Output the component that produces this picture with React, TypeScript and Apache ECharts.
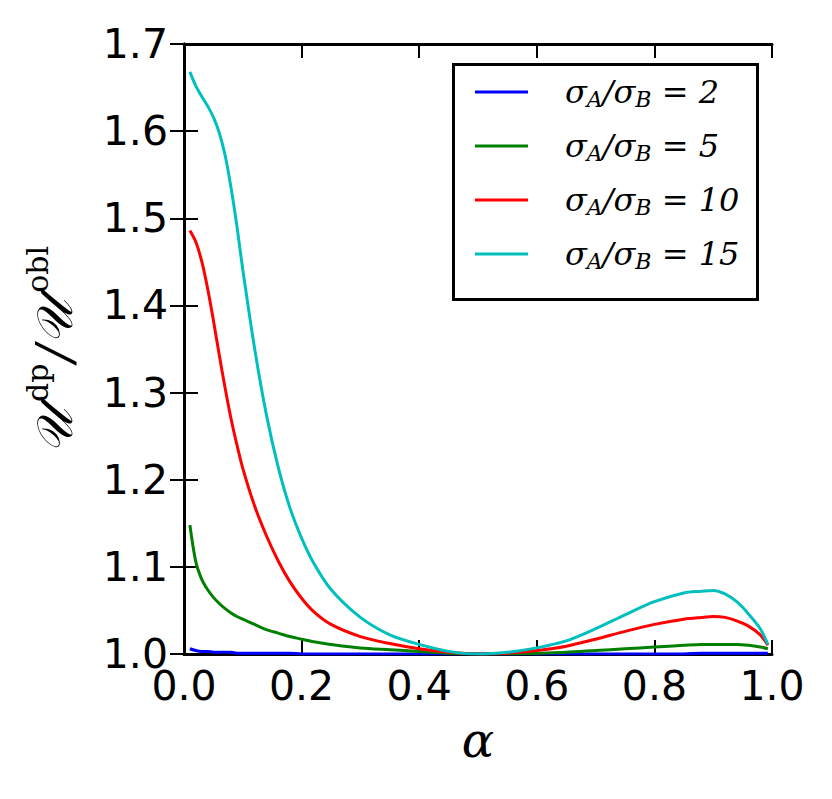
import React, { useEffect, useRef } from "react";
import * as echarts from "echarts";

const alphaValues = [
  0.01, 0.02, 0.03, 0.04, 0.05, 0.06, 0.07, 0.08, 0.09, 0.1, 0.12, 0.14, 0.16, 0.18,
  0.2, 0.22, 0.25, 0.3, 0.35, 0.4, 0.45, 0.5, 0.55, 0.6, 0.65, 0.7, 0.75, 0.8, 0.85,
  0.88, 0.9, 0.92, 0.94, 0.96, 0.98, 0.993,
];

const ratio2 = [
  1.006, 1.004, 1.003, 1.003, 1.002, 1.002, 1.002, 1.002, 1.001, 1.001, 1.001, 1.001, 1.001, 1.001,
  1.0, 1.0, 1.0, 1.0, 1.0, 1.0, 1.0, 1.0, 1.0, 1.0, 1.0, 1.0, 1.0, 1.0, 1.0,
  1.001, 1.001, 1.001, 1.001, 1.001, 1.001, 1.001,
];

const ratio5 = [
  1.148, 1.106, 1.086, 1.074, 1.065, 1.058, 1.052, 1.047, 1.043, 1.04, 1.034, 1.028, 1.024, 1.02,
  1.017, 1.014, 1.011, 1.007, 1.005, 1.003, 1.001, 1.0, 1.0, 1.001, 1.002, 1.004, 1.006, 1.008, 1.01,
  1.011, 1.011, 1.011, 1.011, 1.01, 1.008, 1.006,
];

const ratio10 = [
  1.486, 1.473, 1.451, 1.42, 1.383, 1.343, 1.305, 1.27, 1.24, 1.213, 1.17, 1.136, 1.107, 1.083,
  1.064, 1.049, 1.034, 1.02, 1.012, 1.006, 1.002, 1.0, 1.001, 1.004, 1.009, 1.017, 1.026, 1.034, 1.04,
  1.042, 1.043, 1.042, 1.038, 1.032, 1.022, 1.01,
];

const ratio15 = [
  1.668, 1.652, 1.64, 1.629, 1.616, 1.598, 1.572, 1.535, 1.491, 1.441, 1.351, 1.275, 1.215, 1.168,
  1.133, 1.105, 1.074, 1.042, 1.022, 1.011, 1.003, 1.0, 1.002, 1.007, 1.015, 1.029, 1.045, 1.06, 1.07,
  1.072, 1.073, 1.069, 1.06, 1.046, 1.029, 1.011,
];

const ratioLabels = ["2", "5", "10", "15"];
const seriesColors = ["#0000ff", "#008000", "#ff0000", "#00bfbf"];
const seriesValues = [ratio2, ratio5, ratio10, ratio15];

const xTicks = { min: 0, max: 1, interval: 0.2 };
const yTicks = { min: 1.0, max: 1.7, interval: 0.1 };

export default function App() {
  const ref = useRef<HTMLDivElement>(null);

  useEffect(() => {
    if (!ref.current) return;
    const chart = echarts.init(ref.current, undefined, { renderer: "svg" });

    const seriesNames = ratioLabels.map((r) => `σA/σB=${r}`);
    const labelFont = "'DejaVu Sans', sans-serif";
    const mathFont = "'DejaVu Serif', serif";

    const axisCommon = {
      axisLine: { show: true, lineStyle: { color: "#000", width: 3 } },
      axisTick: { show: true, inside: true, length: 14, lineStyle: { color: "#000", width: 2 } },
      splitLine: { show: false },
    };

    const option: any = {
      animation: false,
      backgroundColor: "#fff",
      grid: { left: 184, top: 44, width: 588, height: 610, containLabel: false },
      xAxis: [
        {
          type: "value",
          ...xTicks,
          position: "bottom",
          ...axisCommon,
          axisLabel: {
            show: true,
            color: "#000",
            fontFamily: labelFont,
            fontSize: 41,
            lineHeight: 28,
            margin: 18,
            showMinLabel: true,
            showMaxLabel: true,
            formatter: (v: number) => v.toFixed(1),
          },
          name: "α",
          nameLocation: "middle",
          nameGap: 62,
          nameTextStyle: {
            color: "#000",
            fontFamily: mathFont,
            fontStyle: "italic",
            fontSize: 48,
          },
        },
        {
          type: "value",
          ...xTicks,
          position: "top",
          ...axisCommon,
          axisLabel: { show: false },
        },
      ],
      yAxis: [
        {
          type: "value",
          ...yTicks,
          position: "left",
          ...axisCommon,
          axisLabel: {
            show: true,
            color: "#000",
            fontFamily: labelFont,
            fontSize: 41,
            lineHeight: 28,
            margin: 16,
            showMinLabel: true,
            showMaxLabel: true,
            formatter: (v: number) => v.toFixed(1),
          },
          name: "{u|𝒰}{sup|dp}{u|/𝒰}{sup|obl}",
          nameLocation: "middle",
          nameRotate: 90,
          nameGap: 104,
          nameTextStyle: {
            color: "#000",
            rich: {
              u: { fontFamily: mathFont, fontStyle: "italic", fontSize: 50, lineHeight: 58, color: "#000", verticalAlign: "bottom" },
              sup: { fontFamily: mathFont, fontSize: 30, lineHeight: 34, color: "#000", verticalAlign: "top", padding: [0, 2, 0, 7] },
            },
          },
        },
        {
          type: "value",
          ...yTicks,
          position: "right",
          ...axisCommon,
          axisLabel: { show: false },
        },
      ],
      graphic: [
        {
          type: "rect",
          left: 452,
          top: 63,
          shape: { x: 0, y: 0, width: 304, height: 235 },
          style: { fill: "#fff", stroke: "#000", lineWidth: 3 },
          z: 50,
        },
      ],
      legend: {
        show: true,
        orient: "vertical",
        left: 475,
        top: 76,
        padding: 0,
        itemWidth: 53,
        itemHeight: 3,
        itemGap: 20,
        icon: "rect",
        z: 60,
        data: seriesNames.map((n) => ({ name: n, icon: "rect" })),
        formatter: (name: string) => {
          const idx = seriesNames.indexOf(name);
          const r = ratioLabels[idx];
          return `{s|σ}{sub|A}{s|/σ}{sub|B}{s| = ${r}}`;
        },
        textStyle: {
          padding: [0, 0, 0, 32],
          rich: {
            s: { fontFamily: mathFont, fontStyle: "italic", fontSize: 32, lineHeight: 36, color: "#000" },
            sub: { fontFamily: mathFont, fontStyle: "italic", fontSize: 22, lineHeight: 24, color: "#000", verticalAlign: "bottom" },
          },
        },
      },
      series: seriesValues.map((vals, i) => ({
        name: seriesNames[i],
        type: "line",
        xAxisIndex: 0,
        yAxisIndex: 0,
        data: alphaValues.map((a, j) => [a, vals[j]]),
        smooth: 0.3,
        showSymbol: false,
        symbol: "none",
        clip: true,
        lineStyle: { color: seriesColors[i], width: 3 },
        itemStyle: { color: seriesColors[i] },
        z: 10,
      })),
    };

    chart.setOption(option);
    return () => chart.dispose();
  }, []);

  return (
    <div
      ref={ref}
      style={{ position: "absolute", left: 0, top: 0, width: 832, height: 799 }}
    />
  );
}
